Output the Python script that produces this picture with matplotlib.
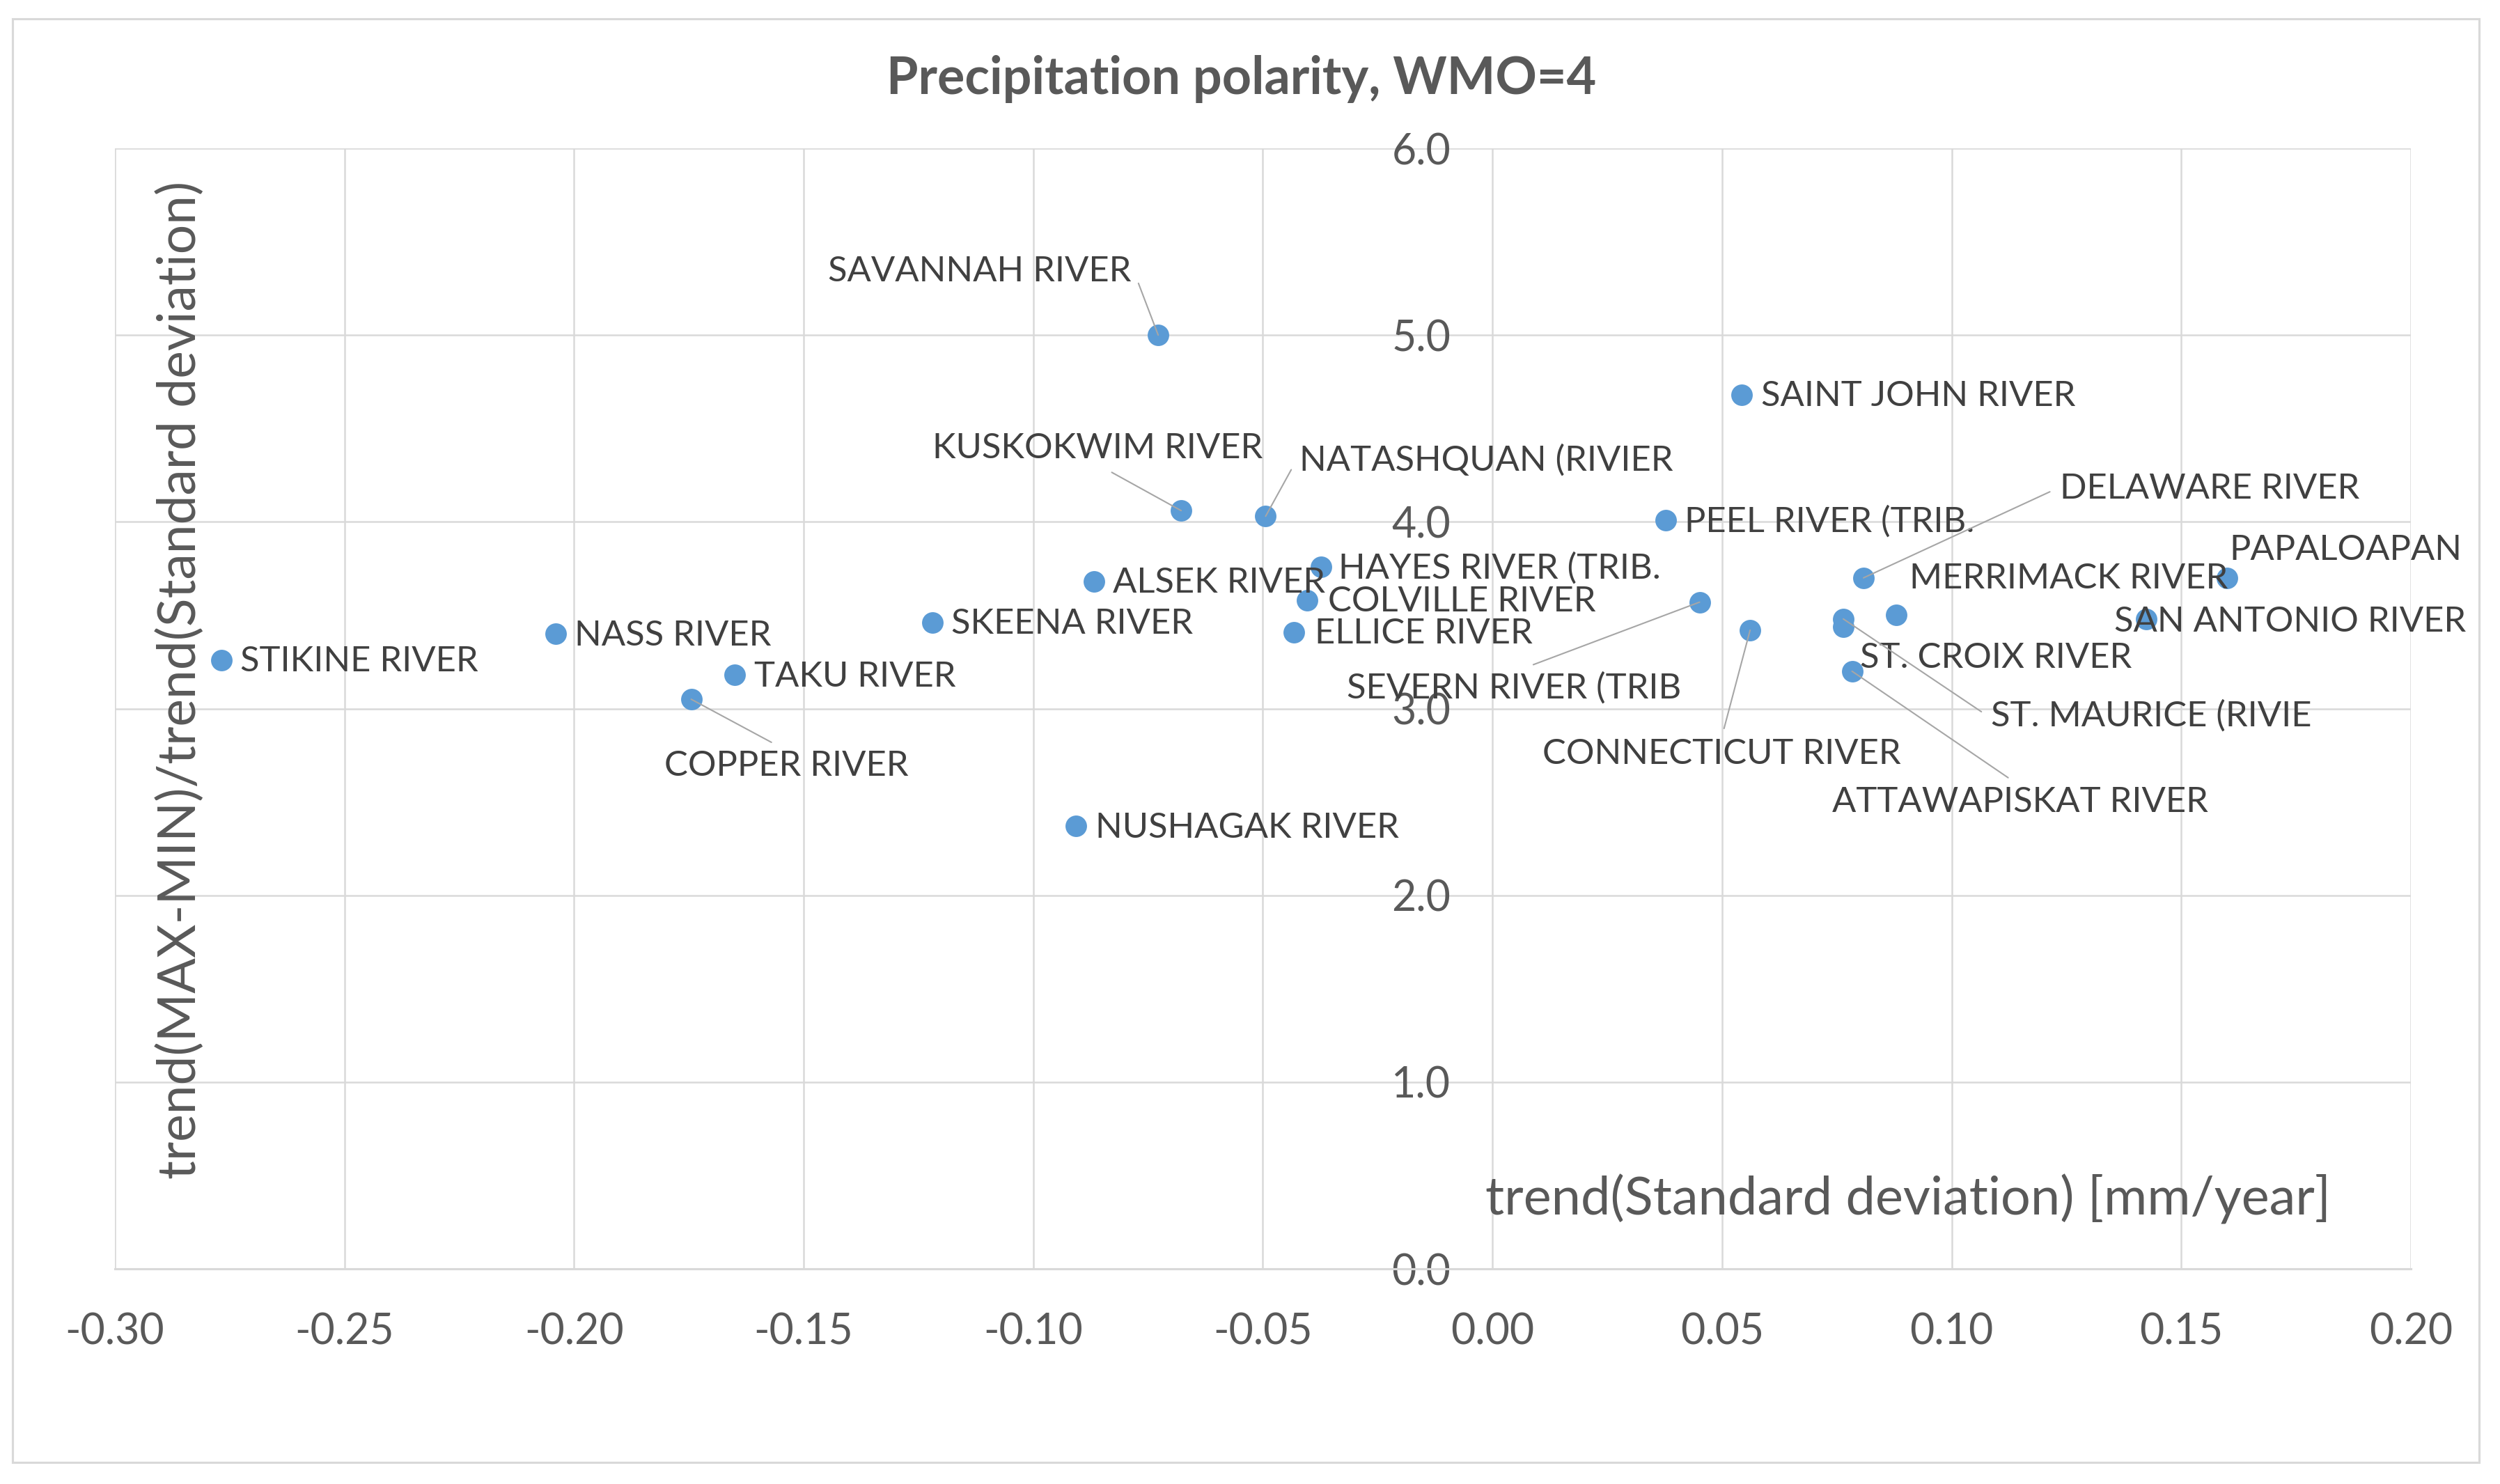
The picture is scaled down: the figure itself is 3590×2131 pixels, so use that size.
import matplotlib
matplotlib.use("Agg")
import matplotlib.pyplot as plt
from matplotlib.patches import Rectangle

plt.rcParams['font.family'] = ['Lato', 'DejaVu Sans']

# ---------------- data ----------------
rivers = [
    "STIKINE RIVER", "NASS RIVER", "TAKU RIVER", "COPPER RIVER",
    "SKEENA RIVER", "ALSEK RIVER", "NUSHAGAK RIVER", "SAVANNAH RIVER",
    "KUSKOKWIM RIVER", "NATASHQUAN (RIVIER", "HAYES RIVER (TRIB.",
    "COLVILLE RIVER", "ELLICE RIVER", "SAINT JOHN RIVER",
    "PEEL RIVER (TRIB.", "SEVERN RIVER (TRIB", "CONNECTICUT RIVER",
    "DELAWARE RIVER", "MERRIMACK RIVER", "PAPALOAPAN",
    "SAN ANTONIO RIVER", "ST. CROIX RIVER", "ST. MAURICE (RIVIE",
    "ATTAWAPISKAT RIVER",
]
trend_sd = [
    -0.2768, -0.2040, -0.1650, -0.1745,
    -0.1220, -0.0868, -0.0907, -0.0728,
    -0.0678, -0.0494, -0.0373,
    -0.0404, -0.0432, 0.0543,
    0.0377, 0.0451, 0.0561,
    0.0808, 0.0880, 0.1599,
    0.1424, 0.0764, 0.0764,
    0.0783,
]
ratio = [
    3.26, 3.40, 3.18, 3.05,
    3.46, 3.68, 2.37, 5.00,
    4.06, 4.03, 3.76,
    3.58, 3.41, 4.68,
    4.01, 3.57, 3.42,
    3.70, 3.50, 3.70,
    3.48, 3.44, 3.48,
    3.20,
]
x_ticks = [-0.30, -0.25, -0.20, -0.15, -0.10, -0.05, 0.00, 0.05, 0.10, 0.15, 0.20]
y_ticks = [0.0, 1.0, 2.0, 3.0, 4.0, 5.0, 6.0]
title = "Precipitation polarity, WMO=4"
x_title = "trend(Standard deviation) [mm/year]"
y_title = "trend(MAX-MIN)/trend(Standard deviation)"

# ---------------- label layout (offsets in reference px, ha, leader) ----------------
label_layout = {
    "STIKINE RIVER": (12, 1, 'left', None),
    "NASS RIVER": (12, 1, 'left', None),
    "TAKU RIVER": (12, 1, 'left', None),
    "COPPER RIVER": (59.5, 42, 'center', ((0.5, 1.0), "arc3,rad=0")),
    "SKEENA RIVER": (12, 1, 'left', None),
    "ALSEK RIVER": (12, 1, 'left', None),
    "NUSHAGAK RIVER": (12, 1, 'left', None),
    "SAVANNAH RIVER": (-17, -40, 'right', ((1.0, 0.5), "arc,angleA=0,angleB=0,armA=4,armB=0,rad=0")),
    "KUSKOKWIM RIVER": (-52.5, -39, 'center', ((0.5, 0.0), "arc3,rad=0")),
    "NATASHQUAN (RIVIER": (21, -35, 'left', ((0.0, 0.5), "arc,angleA=180,angleB=0,armA=4,armB=0,rad=0")),
    "HAYES RIVER (TRIB.": (11, 1, 'left', None),
    "COLVILLE RIVER": (13, 1, 'left', None),
    "ELLICE RIVER": (13, 1, 'left', None),
    "SAINT JOHN RIVER": (12, 1, 'left', None),
    "PEEL RIVER (TRIB.": (12, 1, 'left', None),
    "SEVERN RIVER (TRIB": (-116.5, 54, 'center', ((0.5, 1.0), "arc3,rad=0")),
    "CONNECTICUT RIVER": (-18, 78, 'center', ((0.5, 1.0), "arc3,rad=0")),
    "DELAWARE RIVER": (123, -56, 'left', ((0.0, 0.5), "arc,angleA=180,angleB=0,armA=4,armB=0,rad=0")),
    "MERRIMACK RIVER": (8, -23, 'left', None),
    "PAPALOAPAN": (1.5, -17.5, 'left', None),
    "SAN ANTONIO RIVER": (-20, 2, 'left', None),
    "ST. CROIX RIVER": (10.5, 20, 'left', None),
    "ST. MAURICE (RIVIE": (92.5, 61, 'left', ((0.0, 0.5), "arc,angleA=180,angleB=0,armA=4,armB=0,rad=0")),
    "ATTAWAPISKAT RIVER": (105.5, 82, 'center', ((0.5, 1.0), "arc3,rad=0")),
}
PX2PT = 0.5495  # reference display px -> points

W, H = 3590, 2131
fig = plt.figure(figsize=(W / 300, H / 300), dpi=300)
fig.patch.set_facecolor('white')

ax = fig.add_axes([165 / W, 1 - 1822 / H, (3462 - 165) / W, (1822 - 213) / H])
ax.scatter(trend_sd, ratio, s=55, color='#5B9BD5', linewidths=0, zorder=3)
ax.set_xlim(-0.30, 0.20)
ax.set_ylim(0, 6)
ax.set_xticks(x_ticks)
ax.set_xticklabels([f"{v:.2f}" for v in x_ticks])
ax.set_yticks(y_ticks)
ax.set_yticklabels([f"{v:.1f}" for v in y_ticks])
ax.grid(True, color='#D9D9D9', linewidth=0.6)
ax.set_axisbelow(True)
for side in ['top', 'right']:
    ax.spines[side].set_visible(False)
ax.spines['left'].set_position(('data', 0))
ax.spines['left'].set_visible(False)
ax.spines['bottom'].set_color('#D9D9D9')
ax.spines['bottom'].set_linewidth(0.75)
ax.tick_params(axis='x', length=0, pad=15.0, labelsize=14.6, labelcolor='#595959')
ax.tick_params(axis='y', length=0, pad=14.4, labelsize=14.6, labelcolor='#595959')

for name, xv, yv in zip(rivers, trend_sd, ratio):
    dx, dy, ha, leader = label_layout[name]
    kw = {}
    if leader is not None:
        relpos, cs = leader
        kw['arrowprops'] = dict(arrowstyle='-', color='#A6A6A6', lw=0.5,
                                relpos=relpos, connectionstyle=cs,
                                shrinkA=1.5, shrinkB=0)
    ax.annotate(name, (xv, yv), xytext=(dx * PX2PT, -dy * PX2PT),
                textcoords='offset points', ha=ha, va='center',
                fontsize=12.2, color='#404040', zorder=4, **kw)

fig.text(1783 / W, 1 - 113 / H, title, ha='center', va='center',
         fontsize=17.7, fontweight='bold', color='#595959')
fig.text(259 / W, 1 - 976 / H, y_title, rotation=90, ha='center', va='center',
         fontsize=18, color='#595959')
fig.text(2740 / W, 1 - 1722 / H, x_title, ha='center', va='center',
         fontsize=18.2, color='#595959')

fig.patches.append(Rectangle((18 / W, 1 - 2100 / H), (3560 - 18) / W, (2100 - 27) / H,
                             transform=fig.transFigure, fill=False,
                             edgecolor='#D9D9D9', linewidth=0.75))

fig.savefig("out.png", dpi=300)
